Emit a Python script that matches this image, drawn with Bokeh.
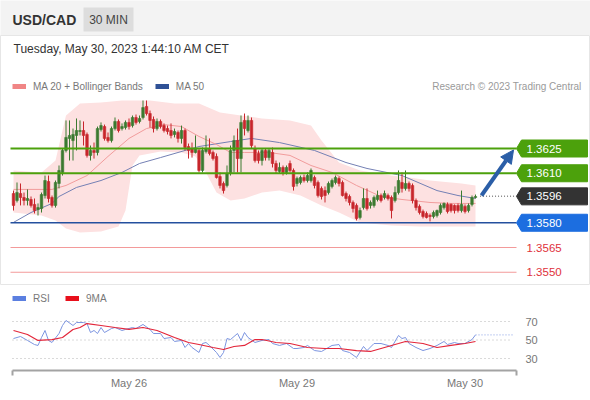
from bokeh.plotting import figure
from bokeh.models import (Range1d, Label, Legend, LegendItem, Arrow, NormalHead,
                          FixedTicker, BoxAnnotation)
from bokeh.layouts import column
from bokeh.embed import file_html
from bokeh.resources import INLINE
from bokeh.core.properties import value

FONT = "Liberation Sans"
NAN = float("nan")

# ---------------- data ----------------
pair = "USD/CAD"
timeframe = "30 MIN"
stamp = "Tuesday, May 30, 2023 1:44:10 AM CET"
credit = "Research \u00a9 2023 Trading Central"

open_ = [1.35977, 1.35935, 1.35977, 1.35953, 1.35935, 1.35941, 1.35911, 1.35880, 1.35886, 1.35965,
         1.36050, 1.35953, 1.35905, 1.36038, 1.36105, 1.36238, 1.36311, 1.36298, 1.36329, 1.36353,
         1.36359, 1.36335, 1.36208, 1.36238, 1.36226, 1.36365, 1.36383, 1.36317, 1.36298, 1.36371,
         1.36414, 1.36371, 1.36377, 1.36408, 1.36389, 1.36438, 1.36414, 1.36438, 1.36505, 1.36462,
         1.36426, 1.36371, 1.36414, 1.36389, 1.36371, 1.36359, 1.36335, 1.36347, 1.36311, 1.36359,
         1.36262, 1.36250, 1.36226, 1.36238, 1.36117, 1.36232, 1.36250, 1.36226, 1.36202, 1.36080,
         1.36038, 1.36026, 1.36098, 1.36238, 1.36298, 1.36189, 1.36420, 1.36359, 1.36420, 1.36250,
         1.36220, 1.36177, 1.36238, 1.36195, 1.36226, 1.36159, 1.36111, 1.36135, 1.36105, 1.36159,
         1.36117, 1.36038, 1.36044, 1.36074, 1.36056, 1.36056, 1.36074, 1.36044, 1.36008, 1.35995,
         1.35983, 1.36020, 1.36044, 1.36068, 1.36044, 1.35977, 1.35959, 1.35923, 1.35905, 1.35832,
         1.35892, 1.35947, 1.35905, 1.35905, 1.35941, 1.35965, 1.35953, 1.35965, 1.35953, 1.35935,
         1.35983, 1.36044, 1.36008, 1.36038, 1.36026, 1.35935, 1.35899, 1.35868, 1.35856, 1.35844,
         1.35838, 1.35844, 1.35862, 1.35892, 1.35911, 1.35911, 1.35905, 1.35905, 1.35874, 1.35899,
         1.35874, 1.35911, 1.35953]
high = [1.35995, 1.36044, 1.36038, 1.35983, 1.36002, 1.35959, 1.35947, 1.35917, 1.35983, 1.36086,
        1.36086, 1.35965, 1.36056, 1.36147, 1.36250, 1.36420, 1.36420, 1.36371, 1.36432, 1.36420,
        1.36414, 1.36347, 1.36268, 1.36286, 1.36383, 1.36408, 1.36395, 1.36347, 1.36383, 1.36438,
        1.36426, 1.36402, 1.36420, 1.36432, 1.36450, 1.36456, 1.36450, 1.36541, 1.36541, 1.36480,
        1.36444, 1.36432, 1.36426, 1.36402, 1.36389, 1.36402, 1.36371, 1.36359, 1.36389, 1.36371,
        1.36280, 1.36286, 1.36329, 1.36250, 1.36256, 1.36329, 1.36311, 1.36238, 1.36220, 1.36105,
        1.36050, 1.36147, 1.36268, 1.36329, 1.36371, 1.36450, 1.36462, 1.36450, 1.36438, 1.36268,
        1.36238, 1.36250, 1.36250, 1.36250, 1.36256, 1.36177, 1.36165, 1.36147, 1.36147, 1.36177,
        1.36129, 1.36080, 1.36086, 1.36092, 1.36105, 1.36129, 1.36086, 1.36056, 1.36020, 1.36020,
        1.36050, 1.36068, 1.36086, 1.36080, 1.36056, 1.35989, 1.35971, 1.35935, 1.35917, 1.35892,
        1.36008, 1.36008, 1.35935, 1.35965, 1.35995, 1.35977, 1.35995, 1.35977, 1.35965, 1.36020,
        1.36117, 1.36105, 1.36117, 1.36050, 1.36038, 1.35947, 1.35911, 1.35880, 1.35868, 1.35856,
        1.35874, 1.35880, 1.35917, 1.35923, 1.35923, 1.35917, 1.35911, 1.35917, 1.35995, 1.35911,
        1.35917, 1.35965, 1.35971]
low = [1.35874, 1.35923, 1.35905, 1.35905, 1.35905, 1.35892, 1.35856, 1.35844, 1.35862, 1.35947,
       1.35923, 1.35892, 1.35892, 1.36008, 1.36086, 1.36226, 1.36177, 1.36177, 1.36238, 1.36329,
       1.36268, 1.36195, 1.36177, 1.36189, 1.36208, 1.36353, 1.36298, 1.36286, 1.36286, 1.36359,
       1.36347, 1.36359, 1.36365, 1.36365, 1.36377, 1.36395, 1.36402, 1.36426, 1.36450, 1.36377,
       1.36347, 1.36359, 1.36371, 1.36347, 1.36335, 1.36311, 1.36317, 1.36286, 1.36280, 1.36238,
       1.36189, 1.36195, 1.36220, 1.36105, 1.36105, 1.36220, 1.36208, 1.36177, 1.36068, 1.36008,
       1.35977, 1.36014, 1.36086, 1.36105, 1.36105, 1.36105, 1.36329, 1.36347, 1.36250, 1.36165,
       1.36159, 1.36147, 1.36177, 1.36177, 1.36135, 1.36098, 1.36098, 1.36086, 1.36092, 1.36105,
       1.35995, 1.36020, 1.36032, 1.36044, 1.36044, 1.36044, 1.36008, 1.35953, 1.35941, 1.35923,
       1.35971, 1.36008, 1.36032, 1.36020, 1.35959, 1.35929, 1.35905, 1.35862, 1.35814, 1.35820,
       1.35880, 1.35874, 1.35886, 1.35892, 1.35929, 1.35923, 1.35941, 1.35935, 1.35826, 1.35923,
       1.35971, 1.35983, 1.35995, 1.35989, 1.35917, 1.35874, 1.35850, 1.35826, 1.35826, 1.35808,
       1.35826, 1.35832, 1.35850, 1.35880, 1.35856, 1.35862, 1.35856, 1.35862, 1.35862, 1.35856,
       1.35862, 1.35899, 1.35947]
close = [1.35905, 1.35983, 1.35953, 1.35935, 1.35947, 1.35905, 1.35874, 1.35892, 1.35971, 1.36056,
         1.35947, 1.35905, 1.36044, 1.36117, 1.36238, 1.36317, 1.36329, 1.36335, 1.36359, 1.36359,
         1.36329, 1.36208, 1.36238, 1.36226, 1.36371, 1.36389, 1.36311, 1.36298, 1.36371, 1.36414,
         1.36359, 1.36383, 1.36408, 1.36383, 1.36438, 1.36408, 1.36432, 1.36498, 1.36462, 1.36420,
         1.36371, 1.36414, 1.36383, 1.36359, 1.36353, 1.36329, 1.36353, 1.36311, 1.36359, 1.36256,
         1.36238, 1.36226, 1.36250, 1.36117, 1.36238, 1.36250, 1.36220, 1.36189, 1.36074, 1.36026,
         1.35995, 1.36098, 1.36238, 1.36298, 1.36189, 1.36408, 1.36371, 1.36420, 1.36268, 1.36177,
         1.36177, 1.36238, 1.36195, 1.36238, 1.36159, 1.36117, 1.36135, 1.36105, 1.36135, 1.36117,
         1.36020, 1.36068, 1.36074, 1.36056, 1.36086, 1.36117, 1.36026, 1.35965, 1.35959, 1.35965,
         1.36038, 1.36056, 1.36074, 1.36038, 1.35965, 1.35947, 1.35923, 1.35886, 1.35826, 1.35874,
         1.35947, 1.35886, 1.35923, 1.35953, 1.35965, 1.35935, 1.35977, 1.35947, 1.35874, 1.35983,
         1.36056, 1.36008, 1.36038, 1.36008, 1.35935, 1.35892, 1.35862, 1.35838, 1.35832, 1.35838,
         1.35862, 1.35874, 1.35905, 1.35917, 1.35868, 1.35874, 1.35874, 1.35874, 1.35911, 1.35868,
         1.35905, 1.35953, 1.35959]

ma20_idx = [0, 11, 15, 21, 27, 33, 38, 43, 48, 53, 58, 62, 66, 73, 79, 85, 91, 98, 105, 111, 119, 125, 132]
ma20 = [1.36002, 1.36002, 1.36026, 1.36086, 1.36202, 1.36311, 1.36371, 1.36395, 1.36383, 1.36323,
        1.36274, 1.36226, 1.36226, 1.36226, 1.36208, 1.36147, 1.36105, 1.36026, 1.35959, 1.35941,
        1.35923, 1.35917, 1.35917]
ma50_idx = [0, 5, 11, 13, 18, 25, 31, 36, 42, 49, 53, 62, 68, 76, 86, 95, 101, 111, 121, 127, 132]
ma50 = [1.35802, 1.35862, 1.35917, 1.35959, 1.36014, 1.36056, 1.36105, 1.36159, 1.36195, 1.36238,
        1.36262, 1.36292, 1.36311, 1.36286, 1.36238, 1.36165, 1.36129, 1.36086, 1.35995, 1.35965,
        1.35947]
bb_up_idx = [0, 8, 12, 15, 19, 25, 31, 39, 46, 53, 59, 65, 71, 79, 85, 88, 93, 99, 108, 113, 119, 128, 132]
bb_up = [1.36117, 1.36105, 1.36177, 1.36450, 1.36523, 1.36529, 1.36541, 1.36541, 1.36523, 1.36523,
         1.36468, 1.36450, 1.36432, 1.36420, 1.36389, 1.36298, 1.36165, 1.36117, 1.36086, 1.36074,
         1.36056, 1.36038, 1.36026]
bb_lo_idx = [0, 8, 12, 15, 19, 25, 30, 32, 34, 36, 42, 48, 52, 55, 58, 62, 66, 71, 76, 82, 88, 93,
             99, 108, 116, 125, 132]
bb_lo = [1.35862, 1.35844, 1.35814, 1.35765, 1.35741, 1.35747, 1.35777, 1.35874, 1.36147, 1.36208,
         1.36232, 1.36226, 1.36202, 1.36105, 1.35983, 1.35935, 1.35947, 1.35983, 1.35995, 1.35965,
         1.35905, 1.35862, 1.35802, 1.35783, 1.35777, 1.35777, 1.35777]

rsi_idx = [0, 2, 4, 6, 7, 8, 9, 10, 11, 13, 14, 15, 17, 18, 20, 21, 22, 23, 24, 25,
           26, 28, 29, 31, 32, 34, 35, 37, 39, 40, 42, 43, 45, 46, 48, 49, 50, 51, 53, 54,
           55, 56, 58, 59, 60, 61, 62, 64, 65, 66, 67, 69, 71, 73, 74, 76, 78, 80, 81, 83,
           84, 86, 88, 91, 93, 94, 96, 98, 100, 101, 103, 105, 107, 108, 110, 111, 112, 113, 115, 117,
           119, 121, 123, 124, 126, 127, 129, 131, 132]
rsi = [51.6, 53.8, 49.5, 45.1, 44.1, 52.7, 60.3, 49.5, 47.3, 57.0, 65.7, 71.1, 65.7, 68.9, 68.9, 67.8, 58.1, 60.3, 57.0, 63.5,
       58.1, 62.4, 63.5, 60.3, 61.4, 63.5, 62.4, 66.8, 61.4, 57.0, 57.0, 51.6, 52.7, 48.4, 49.5, 41.9, 46.2, 41.9, 36.5, 46.2,
       47.3, 44.1, 36.5, 31.1, 36.5, 51.6, 50.5, 57.0, 49.5, 58.1, 52.7, 47.3, 49.5, 50.5, 46.2, 44.1, 46.2, 40.8, 40.8, 41.9,
       44.1, 38.6, 37.6, 44.1, 45.1, 38.6, 36.5, 31.1, 43.0, 38.6, 46.2, 46.2, 44.1, 41.9, 54.9, 51.6, 52.7, 46.2, 41.9, 38.6,
       40.8, 44.1, 48.4, 45.1, 47.3, 46.2, 46.2, 50.5, 55.5]
rsi_ma_idx = [0, 4, 7, 11, 14, 17, 19, 21, 25, 29, 33, 37, 41, 46, 50, 53, 57, 60, 63, 66,
              69, 71, 75, 79, 84, 89, 93, 98, 102, 106, 110, 112, 117, 121, 125, 129, 132]
rsi_ma = [60.3, 55.9, 49.5, 50.5, 52.7, 61.4, 63.5, 67.8, 65.7, 63.5, 61.4, 63.5, 60.3, 52.7, 47.3, 45.1, 41.9, 39.7, 43.0, 44.1,
          50.5, 50.5, 47.3, 46.2, 41.9, 40.8, 40.8, 38.6, 37.6, 41.9, 46.2, 48.4, 46.2, 41.9, 44.1, 46.2, 48.4]

levels = [1.3625, 1.3610, 1.3596, 1.3580, 1.3565, 1.3550]
level_text = ["1.3625", "1.3610", "1.3596", "1.3580", "1.3565", "1.3550"]
level_kind = ["res", "res", "last", "sup", "tgt", "tgt"]

day_ticks = [33, 81, 129]
day_labels = ["May 26", "May 29", "May 30"]
rsi_ticks = [30, 50, 70]
rsi_tick_labels = ["30", "50", "70"]

# ---------------- styles / layout ----------------
GREEN_C = "#3b7a30"
RED_C = "#c8262c"
KIND_FILL = {"res": "#4ca10c", "last": "#333333", "sup": "#1c6ee0", "tgt": None}
KIND_LINE = {"res": "#4ca10c", "last": "#8a8a8a", "sup": "#24509e", "tgt": "#f39a9a"}
KIND_TEXT = {"res": "white", "last": "white", "sup": "white", "tgt": "#e0313b"}
KIND_W = {"res": 2, "last": 1.5, "sup": 1.3, "tgt": 1}

W = 590
FIRST_X = 13.0      # page x of the first candle
STEP = 3.5          # px per candle
PX_PER_PRICE = 16500.0
ANCHOR_Y = 148      # page y of the first level


def idx_at(page_x):
    return (page_x - FIRST_X) / STEP


HDR_H = 35
MAIN_TOP = 35
MAIN_H = 250
RSI_TOP = MAIN_TOP + MAIN_H
RSI_H = 115

XR = (idx_at(0), idx_at(W))

# ---------------- header ----------------
hdr = figure(width=W, height=HDR_H, x_range=Range1d(0, W), y_range=Range1d(0, HDR_H),
             x_axis_location=None, y_axis_location=None, min_border=0,
             toolbar_location=None, output_backend="svg",
             background_fill_color="#f3f3f3", border_fill_color="#f3f3f3",
             outline_line_color=None)
hdr.grid.visible = False
hdr.add_layout(BoxAnnotation(left=83, right=133, bottom=4, top=28, fill_color="#dddddd",
                             fill_alpha=1, line_alpha=0))
hdr.add_layout(Label(x=12, y=16, text=pair, text_font=FONT, text_font_size="14px",
                     text_font_style="bold", text_color="#333333", text_baseline="middle"))
hdr.add_layout(Label(x=108, y=16, text=timeframe, text_font=FONT, text_font_size="12px",
                     text_color="#444444", text_baseline="middle", text_align="center"))

# ---------------- main price chart ----------------
y_top = levels[0] + (ANCHOR_Y - MAIN_TOP) / PX_PER_PRICE
y_bot = levels[0] - (MAIN_TOP + MAIN_H - ANCHOR_Y) / PX_PER_PRICE
p = figure(width=W, height=MAIN_H, x_range=Range1d(*XR), y_range=Range1d(y_bot, y_top),
           x_axis_location=None, y_axis_location=None, min_border=0,
           toolbar_location=None, output_backend="svg",
           outline_line_color="#e6e6e6")
p.grid.visible = False

band_x = bb_up_idx + bb_lo_idx[::-1]
band_y = bb_up + bb_lo[::-1]
p.patch(band_x, band_y, fill_color="#fde1e1", fill_alpha=1, line_alpha=0)
p.line(ma50_idx, ma50, line_color="#7480b4", line_width=1)
p.line(ma20_idx, ma20, line_color="#f19c9c", line_width=1)

n = len(close)
xs = list(range(n))
cols = [GREEN_C if c >= o else RED_C for o, c in zip(open_, close)]
p.segment(x0=xs, y0=low, x1=xs, y1=high, line_color=cols, line_width=1)
p.vbar(x=xs, width=0.72, top=[max(o, c) for o, c in zip(open_, close)],
       bottom=[min(o, c) for o, c in zip(open_, close)], fill_color=cols, line_color=cols,
       line_width=0.6)

line_x0 = idx_at(10)
tip_x = idx_at(516)
for lv, kind in zip(levels, level_kind):
    if kind == "last":
        p.line([n + 0.3, tip_x], [lv, lv], line_color=KIND_LINE[kind], line_width=KIND_W[kind],
               line_dash="1 2")
    else:
        p.line([line_x0, tip_x], [lv, lv], line_color=KIND_LINE[kind], line_width=KIND_W[kind])

half_h = 8.5 / PX_PER_PRICE
box_l = idx_at(521)
box_r = idx_at(587)
bx, by, bc = [], [], []
for lv, kind in zip(levels, level_kind):
    if KIND_FILL[kind] is None:
        continue
    bx.append([tip_x, box_l, box_r, box_r, box_l])
    by.append([lv, lv + half_h, lv + half_h, lv - half_h, lv - half_h])
    bc.append(KIND_FILL[kind])
p.patches(bx, by, fill_color=bc, line_color=bc)
p.text(x=[idx_at(526)] * len(levels), y=levels, text=level_text,
       text_color=[KIND_TEXT[k] for k in level_kind], text_font=value(FONT),
       text_font_size="11.5px", text_baseline="middle")

arrow_c = "#2b5ea7"
p.add_layout(Arrow(end=NormalHead(size=13, fill_color=arrow_c, line_color=arrow_c),
                   x_start=idx_at(481), y_start=close[-1] + 1 / PX_PER_PRICE,
                   x_end=idx_at(513), y_end=levels[0] - 1.5 / PX_PER_PRICE,
                   line_color=arrow_c, line_width=4))

p.add_layout(Label(x=13, y=MAIN_H - (48 - MAIN_TOP), x_units="screen", y_units="screen",
                   text=stamp, text_font=FONT, text_font_size="12px", text_color="#333333",
                   text_baseline="middle"))
p.add_layout(Label(x=581, y=MAIN_H - (86 - MAIN_TOP), x_units="screen", y_units="screen",
                   text=credit, text_font=FONT, text_font_size="10px", text_color="#9a9a9a",
                   text_baseline="middle", text_align="right"))
sw1 = p.line([NAN], [NAN], line_color="#f08585", line_width=5)
sw2 = p.line([NAN], [NAN], line_color="#2f5196", line_width=5)
leg = Legend(items=[LegendItem(label="MA 20 + Bollinger Bands", renderers=[sw1]),
                    LegendItem(label="MA 50", renderers=[sw2])],
             location=(12, MAIN_H - (86 - MAIN_TOP) - 6), orientation="horizontal",
             glyph_width=14, glyph_height=12, label_height=12, label_standoff=7, spacing=12,
             padding=0, margin=0, border_line_color=None, background_fill_alpha=0,
             label_text_font=FONT, label_text_font_size="10px", label_text_color="#787878")
p.add_layout(leg)

# ---------------- RSI panel ----------------
R_TOP_FRAME = 290
R_BOT_FRAME = 370
R_MID_Y = 339.5
R_PX = 0.925
r_top = 50 + (R_MID_Y - R_TOP_FRAME) / R_PX
r_bot = 50 - (R_BOT_FRAME - R_MID_Y) / R_PX
ax0 = idx_at(12)
ax1 = idx_at(516)
q = figure(width=W, height=RSI_H, x_range=Range1d(*XR), y_range=Range1d(r_bot, r_top),
           y_axis_location=None, toolbar_location=None, output_backend="svg",
           min_border_left=0, min_border_right=0, min_border_top=R_TOP_FRAME - RSI_TOP,
           min_border_bottom=RSI_TOP + RSI_H - R_BOT_FRAME, outline_line_color=None)
q.grid.visible = False
grid_x1 = idx_at(512)
for t in rsi_ticks:
    q.line([ax0, grid_x1], [t, t], line_color="#b5b5b5", line_width=1, line_dash="1 3")
q.text(x=[idx_at(525)] * len(rsi_ticks), y=rsi_ticks, text=rsi_tick_labels,
       text_font=value(FONT), text_font_size="11px", text_color="#777777",
       text_baseline="middle")
q.line(rsi_idx, rsi, line_color="#7c95e0", line_width=1)
q.line(rsi_ma_idx, rsi_ma, line_color="#e3263a", line_width=1.2)
q.line([rsi_idx[-1], grid_x1], [rsi[-1], rsi[-1]], line_color="#9fb2ea",
       line_width=1.2, line_dash="1 2")

xa = q.xaxis[0]
xa.bounds = (ax0, ax1)
xa.ticker = FixedTicker(ticks=day_ticks, minor_ticks=[ax0, ax1])
xa.major_label_overrides = {t: s for t, s in zip(day_ticks, day_labels)}
xa.axis_line_color = "#a3a3a3"
xa.axis_line_width = 2
xa.major_tick_line_color = None
xa.minor_tick_line_color = "#a3a3a3"
xa.minor_tick_line_width = 2
xa.minor_tick_in = 0
xa.minor_tick_out = 5
xa.major_label_standoff = 0
xa.major_label_text_font = FONT
xa.major_label_text_font_size = "11px"
xa.major_label_text_color = "#777777"

rs1 = q.line([NAN], [NAN], line_color="#5b7fe0", line_width=5)
rs2 = q.line([NAN], [NAN], line_color="#e8101c", line_width=5)
leg2 = Legend(items=[LegendItem(label="RSI", renderers=[rs1]),
                     LegendItem(label="9MA", renderers=[rs2])],
              location=(12, (R_BOT_FRAME - R_TOP_FRAME) - (298 - R_TOP_FRAME) - 6),
              orientation="horizontal",
              glyph_width=14, glyph_height=12, label_height=12, label_standoff=7, spacing=12,
              padding=0, margin=0, border_line_color=None, background_fill_alpha=0,
              label_text_font=FONT, label_text_font_size="10px", label_text_color="#787878")
q.add_layout(leg2)

layout = column(hdr, p, q, spacing=0)
open("out.html", "w").write(file_html(layout, INLINE))
